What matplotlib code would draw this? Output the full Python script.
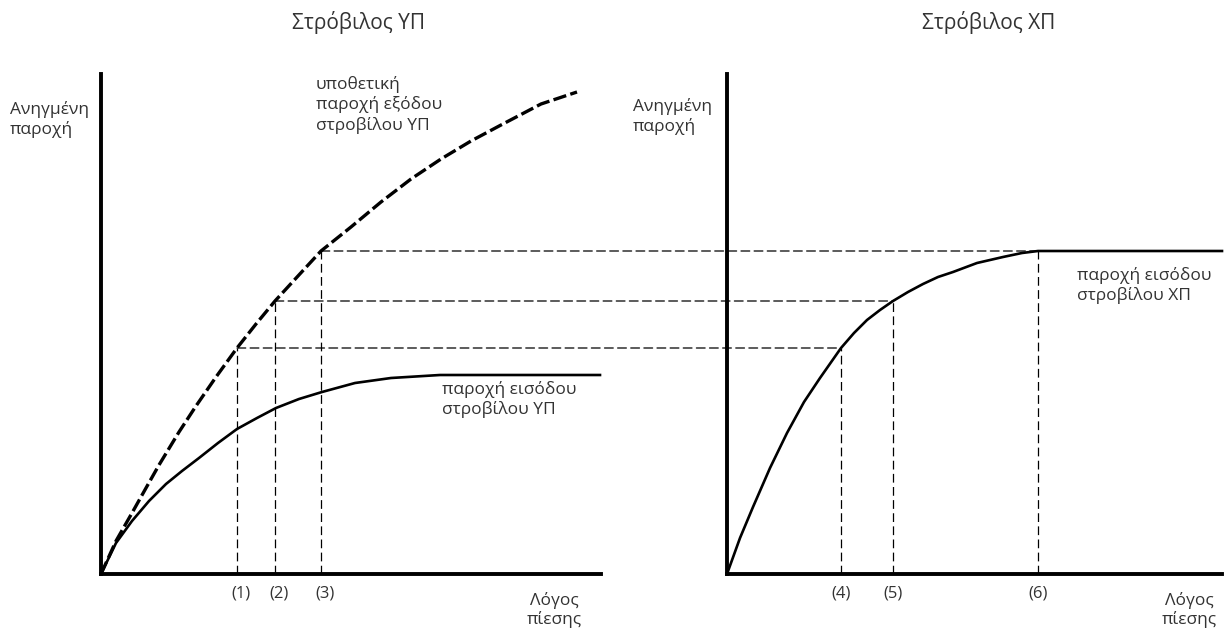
import matplotlib.pyplot as plt
from matplotlib.patches import ConnectionPatch

plt.rcParams['font.family'] = ['Open Sans', 'DejaVu Sans']

# HP turbine: hypothetical outlet flow (dashed) and inlet flow (solid)
hp_out_x = [0, 15, 31, 45, 58, 78, 95, 115, 136, 155, 174, 197, 220, 250, 280, 310, 340, 370, 400, 440, 476]
hp_out_y = [0, 33, 61, 86, 109, 142, 168, 197, 226, 250, 273, 298, 323, 347, 372, 395, 415, 433, 449, 470, 482]
hp_in_x = [0, 15, 31, 48, 65, 81, 98, 117, 136, 156, 175, 198, 221, 254, 290, 339, 420, 499]
hp_in_y = [0, 31, 53, 73, 90, 103, 116, 131, 145, 156, 166, 175, 182, 191, 196, 199, 199, 199]

# LP turbine: inlet flow
lp_in_x = [0, 13, 26, 43, 60, 77, 93, 114, 127, 140, 153, 166, 181, 196, 211, 226, 250, 276, 295, 311, 400, 495]
lp_in_y = [0, 36, 67, 106, 141, 172, 196, 226, 241, 254, 264, 273, 282, 290, 297, 302, 311, 317, 321, 323, 323, 323]

# operating points
hp_marks_x = [136, 174, 220]
lp_marks_x = [114, 166, 311]
mark_levels = [226, 273, 323]
hp_marks_labels = ['(1)', '(2)', '(3)']
lp_marks_labels = ['(4)', '(5)', '(6)']

W, H = 1229, 633
txt = '#333333'
fig = plt.figure(figsize=(W / 100, H / 100), dpi=100)
ax1 = fig.add_axes([101 / W, 59 / H, 500 / W, 500 / H])
ax2 = fig.add_axes([727 / W, 59 / H, 495 / W, 500 / H])

for ax, xmax in [(ax1, 500), (ax2, 495)]:
    ax.set_xlim(0, xmax)
    ax.set_ylim(0, 500)
    ax.spines['top'].set_visible(False)
    ax.spines['right'].set_visible(False)
    ax.spines['left'].set_linewidth(2.8)
    ax.spines['bottom'].set_linewidth(2.8)
    ax.set_xticks([])
    ax.set_yticks([])
    ax.patch.set_alpha(0)

thin = dict(color='black', lw=0.9, ls=(0, (7, 3.5)))

# curves
ax1.plot(hp_out_x, hp_out_y, color='black', lw=2.4, ls=(0, (4, 1.3)),
         solid_joinstyle='round', clip_on=False)
ax1.plot(hp_in_x, hp_in_y, color='black', lw=1.9, solid_joinstyle='round', clip_on=False)
ax2.plot(lp_in_x, lp_in_y, color='black', lw=1.9, solid_joinstyle='round', clip_on=False)

# vertical guides
for x, lev, lab in zip(hp_marks_x, mark_levels, hp_marks_labels):
    ax1.plot([x, x], [0, lev], **thin)
    ax1.text(x + 4, -19, lab, ha='center', va='center', fontsize=12, color=txt)
for x, lev, lab in zip(lp_marks_x, mark_levels, lp_marks_labels):
    ax2.plot([x, x], [0, lev], **thin)
    ax2.text(x, -19, lab, ha='center', va='center', fontsize=12, color=txt)

# horizontal guides from HP outlet curve to LP inlet curve
for i, (xa, xb, lev) in enumerate(zip(hp_marks_x, lp_marks_x, mark_levels)):
    end = 495 if i == len(mark_levels) - 1 else xb
    con = ConnectionPatch(xyA=(xa, lev), coordsA=ax1.transData,
                          xyB=(end, lev), coordsB=ax2.transData, **thin)
    fig.add_artist(con)

# titles and labels
fig.text(358 / W, 1 - 22 / H, 'Στρόβιλος ΥΠ', ha='center', va='center', fontsize=15, color=txt)
fig.text(989 / W, 1 - 22 / H, 'Στρόβιλος ΧΠ', ha='center', va='center', fontsize=15, color=txt)

lab = dict(fontsize=12.5, color=txt, linespacing=1.25, va='top', ha='left')
fig.text(10 / W, 1 - 101 / H, 'Ανηγμένη\nπαροχή', **lab)
fig.text(633 / W, 1 - 98 / H, 'Ανηγμένη\nπαροχή', **lab)
fig.text(316 / W, 1 - 76 / H, 'υποθετική\nπαροχή εξόδου\nστροβίλου ΥΠ', **lab)
fig.text(442 / W, 1 - 381 / H, 'παροχή εισόδου\nστροβίλου ΥΠ', **lab)
fig.text(1077 / W, 1 - 267 / H, 'παροχή εισόδου\nστροβίλου ΧΠ', **lab)

xl = dict(fontsize=12.5, color=txt, linespacing=1.15, va='top', ha='center', multialignment='center')
fig.text(554 / W, 1 - 592 / H, 'Λόγος\nπίεσης', **xl)
fig.text(1189 / W, 1 - 592 / H, 'Λόγος\nπίεσης', **xl)

fig.savefig('out.png', dpi=100, facecolor='white')
